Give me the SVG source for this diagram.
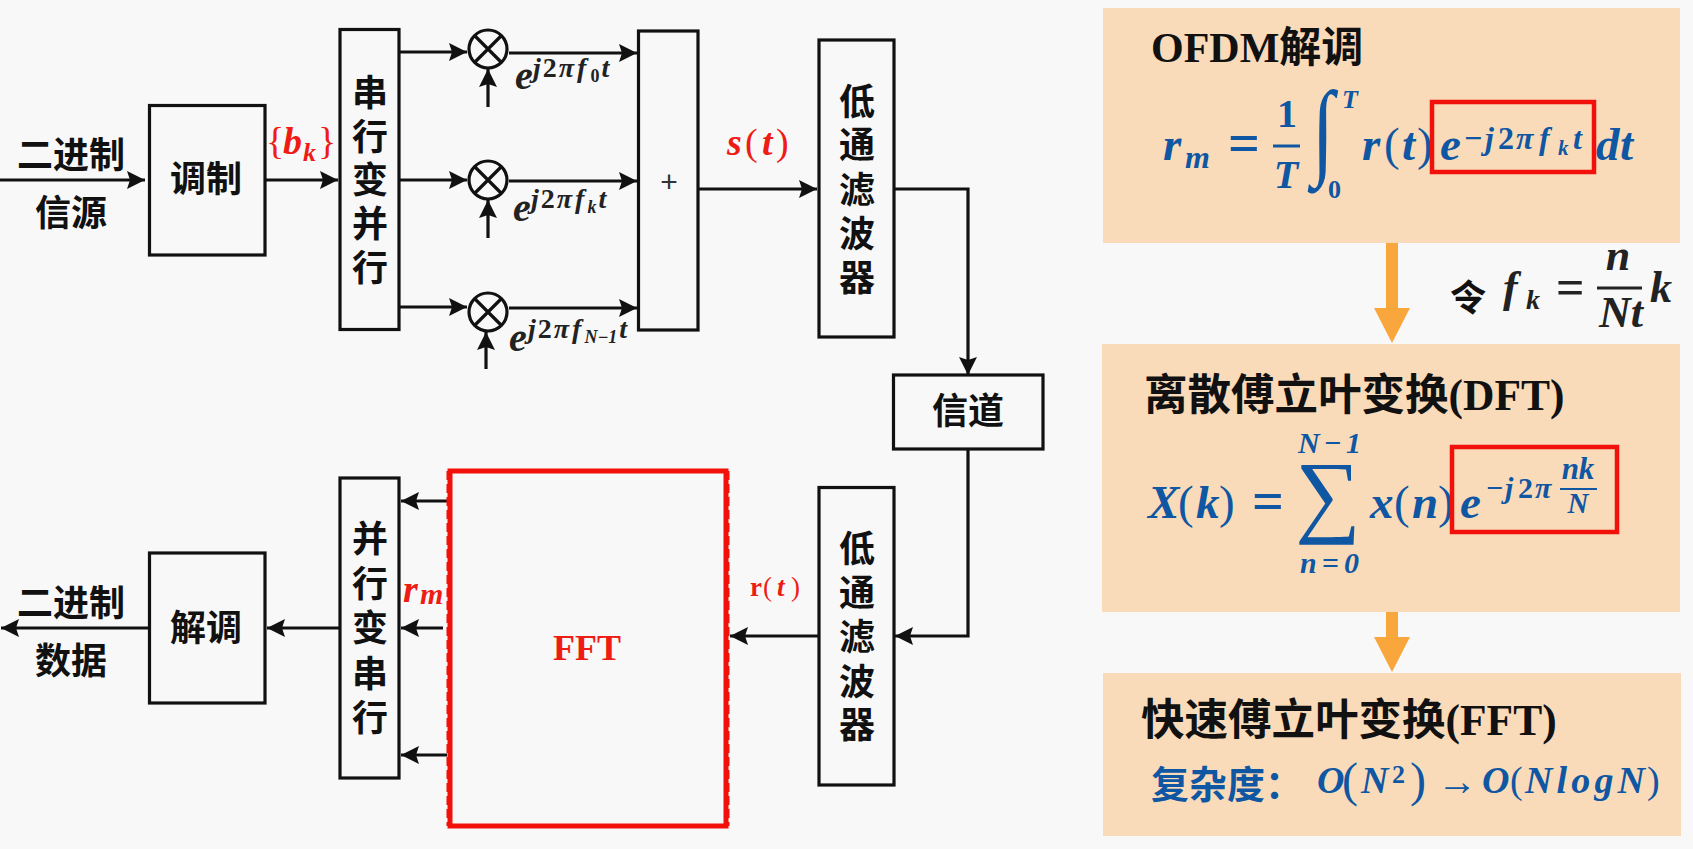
<svg xmlns="http://www.w3.org/2000/svg" width="1693" height="849" viewBox="0 0 1693 849">
<style>
.box{fill:none;stroke:#111;stroke-width:3.2}
.ln{fill:none;stroke:#111;stroke-width:3.2}
.arr{marker-end:url(#ah)}
.cjk{font-family:"Noto Sans CJK SC","Noto Sans",sans-serif;font-weight:700;font-size:36px;fill:#111;text-anchor:middle;dominant-baseline:central;transform:translate(0,-2px)}
.ttl{font-family:"Liberation Serif","Noto Sans CJK SC",serif;font-weight:700;font-size:42px;fill:#111}
.ttl2{font-size:43.5px}
.m{font-family:"Liberation Serif",serif;font-weight:700;font-style:italic;fill:#0f56a3}
.n{font-style:normal}
.u{font-family:"Liberation Serif",serif;font-weight:400;fill:#0f56a3}
.k{fill:#222}
.r{fill:#ee1c14}
.s44{font-size:47px}.s30{font-size:32px}.s26{font-size:26px}.s36{font-size:38px}
.eq{font-size:56px}
.panel{fill:#f9dbb9}
.rb{fill:none;stroke:#f2100a;stroke-width:4.5}
.oa{fill:#f9a73c}
.fl{stroke:#0f56a3;stroke-width:3}
.fd{fill:none;stroke:#f2100a;stroke-width:2;stroke-dasharray:9 4}
</style>
<defs>
<marker id="ah" markerUnits="userSpaceOnUse" markerWidth="20" markerHeight="20" refX="18" refY="9" orient="auto"><path d="M0,0 L18,9 L0,18 L3,9 Z" fill="#111"/></marker>
</defs>
<rect width="1693" height="849" fill="#f8f8f8"/>

<g id="connectors">
<path class="ln arr" d="M0,180 L145,180"/>
<path class="ln arr" d="M266,180 L338,180"/>
<path class="ln arr" d="M400,52 L467,52"/>
<path class="ln arr" d="M400,180 L467,180"/>
<path class="ln arr" d="M400,307 L467,307"/>
<path class="ln arr" d="M509,53 L637,53"/>
<path class="ln arr" d="M509,181 L637,181"/>
<path class="ln arr" d="M509,308 L637,308"/>
<path class="ln arr" d="M488,107 L488,69"/>
<path class="ln arr" d="M488,238 L488,200"/>
<path class="ln arr" d="M486,369 L486,332"/>
<path class="ln arr" d="M699,189 L817,189"/>
<path class="ln arr" d="M894,189 L968,189 L968,375"/>
<path class="ln arr" d="M968,449 L968,636 L895,636"/>
<path class="ln arr" d="M818,636 L730,636"/>
<path class="ln arr" d="M447,501 L401,501"/>
<path class="ln arr" d="M443,628 L401,628"/>
<path class="ln arr" d="M447,755 L401,755"/>
<path class="ln arr" d="M340,628 L267,628"/>
<path class="ln arr" d="M148,628 L1,628"/>
</g>

<g id="src-label"><text class="cjk" x="71" y="154">二进制</text><text class="cjk" x="71" y="212">信源</text></g>
<g id="modulate"><rect class="box" x="149.500" y="105.500" width="115.500" height="149.500"/><text class="cjk" x="206" y="178">调制</text></g>
<g id="sp"><rect class="box" x="340" y="29.500" width="59" height="300"/>
<text class="cjk" x="370" y="92">串</text><text class="cjk" x="370" y="136">行</text><text class="cjk" x="370" y="179">变</text><text class="cjk" x="370" y="223">并</text><text class="cjk" x="370" y="267">行</text></g>

<g id="mixer0"><circle class="box" cx="488" cy="49" r="19"/><path class="ln" d="M475,36 L501,62 M501,36 L475,62"/></g>
<g id="mixer1"><circle class="box" cx="488" cy="180" r="19"/><path class="ln" d="M475,167 L501,193 M501,167 L475,193"/></g>
<g id="mixer2"><circle class="box" cx="488" cy="312" r="19"/><path class="ln" d="M475,299 L501,325 M501,299 L475,325"/></g>

<g id="carrier-labels" font-size="28">
<text class="m k" x="515" y="89" font-size="40">e</text>
<text class="m k" x="533" y="77" font-size="28">j<tspan dx="2" class="n">2</tspan><tspan dx="2">π</tspan><tspan dx="3">f</tspan><tspan dx="4" dy="5" font-size="18" class="n">0</tspan><tspan dx="2" dy="-5">t</tspan></text>
<text class="m k" x="513" y="221" font-size="40">e</text>
<text class="m k" x="531" y="208" font-size="28">j<tspan dx="2" class="n">2</tspan><tspan dx="2">π</tspan><tspan dx="3">f</tspan><tspan dx="3" dy="5" font-size="18">k</tspan><tspan dx="2" dy="-5">t</tspan></text>
<text class="m k" x="509" y="351" font-size="40">e</text>
<text class="m k" x="528" y="338" font-size="28">j<tspan dx="2" class="n">2</tspan><tspan dx="2">π</tspan><tspan dx="3">f</tspan><tspan dx="3" dy="5" font-size="18">N−1</tspan><tspan dx="2" dy="-5">t</tspan></text>
</g>

<g id="sum"><rect class="box" x="638.500" y="31" width="59.500" height="299"/><text x="669" y="192" font-family="Liberation Sans,sans-serif" font-size="30" text-anchor="middle" fill="#333">+</text></g>

<g id="lpf1"><rect class="box" x="819" y="40" width="75" height="297"/>
<text class="cjk" x="857" y="101">低</text><text class="cjk" x="857" y="144">通</text><text class="cjk" x="857" y="189">滤</text><text class="cjk" x="857" y="233">波</text><text class="cjk" x="857" y="277">器</text></g>
<g id="channel"><rect class="box" x="893.500" y="375" width="149.500" height="74"/><text class="cjk" x="968" y="410">信道</text></g>
<g id="lpf2"><rect class="box" x="819" y="487.500" width="75" height="297.500"/>
<text class="cjk" x="857" y="548">低</text><text class="cjk" x="857" y="592">通</text><text class="cjk" x="857" y="636">滤</text><text class="cjk" x="857" y="681">波</text><text class="cjk" x="857" y="724">器</text></g>

<g id="fft"><rect x="450" y="471" width="276" height="355" fill="none" stroke="#f2100a" stroke-width="5"/>
<path class="fd" d="M447.500,471 V826 M728.500,471 V826"/>
<text x="587" y="660" font-family="Liberation Serif,serif" font-weight="700" font-size="36" text-anchor="middle" fill="#ee1c14">FFT</text></g>

<g id="ps"><rect class="box" x="340" y="478" width="59" height="300"/>
<text class="cjk" x="370" y="538">并</text><text class="cjk" x="370" y="583">行</text><text class="cjk" x="370" y="627">变</text><text class="cjk" x="370" y="673">串</text><text class="cjk" x="370" y="717">行</text></g>
<g id="demod"><rect class="box" x="149.500" y="553" width="115.500" height="150"/><text class="cjk" x="206" y="627">解调</text></g>
<g id="sink-label"><text class="cjk" x="71" y="602">二进制</text><text class="cjk" x="71" y="660">数据</text></g>

<g id="red-labels">
<text class="u r" x="266" y="154" font-size="38">{</text>
<text class="m r" x="283" y="154" font-size="38">b</text>
<text class="m r" x="303" y="161" font-size="26">k</text>
<text class="u r" x="318" y="154" font-size="38">}</text>
<text class="m r" x="727" y="155" font-size="38">s</text>
<text class="u r" x="745" y="155" font-size="38">(</text>
<text class="m r" x="762" y="155" font-size="38">t</text>
<text class="u r" x="776" y="155" font-size="38">)</text>
<text class="m r" x="403" y="602" font-size="38">r</text>
<text class="m r" x="420" y="604" font-size="30">m</text>
<text x="750" y="596" font-family="Liberation Serif,serif" font-weight="700" font-size="27" fill="#ee1c14">r</text>
<text class="u r" x="763" y="596" font-size="27">(</text>
<text class="m r" x="777" y="596" font-size="27">t</text>
<text class="u r" x="791" y="596" font-size="27">)</text>
</g>

<g id="panel-ofdm"><rect class="panel" x="1103" y="8" width="577" height="235"/>
<text class="ttl" x="1151" y="62">OFDM解调</text>
<text class="m s44" x="1163" y="160">r</text><text class="m s30" x="1185" y="168">m</text>
<text class="m n eq" x="1228" y="162">=</text>
<text class="m n" x="1287" y="127" font-size="40" text-anchor="middle">1</text>
<line class="fl" x1="1273" y1="146" x2="1300" y2="146"/>
<text class="m" x="1286" y="188" font-size="40" text-anchor="middle">T</text>
<text class="u" font-size="112" transform="translate(1312,165) scale(.72,.95)">∫</text>
<text class="m s26" x="1342" y="108">T</text>
<text class="m s26 n" x="1328" y="198">0</text>
<text class="m s44" x="1362" y="160">r</text><text class="u s44" x="1384" y="160">(</text><text class="m s44" x="1402" y="160">t</text><text class="u s44" x="1417" y="160">)</text>
<text class="m s44" x="1440" y="160">e</text>
<text class="m s30 n" x="1464" y="149">−</text><text class="m s30" x="1485" y="149">j</text><text class="m s30 n" x="1498" y="149">2</text><text class="m s30" x="1516" y="149">π</text><text class="m s30" x="1539" y="149">f</text><text class="m" x="1558" y="155" font-size="21">k</text><text class="m s30" x="1573" y="149">t</text>
<text class="m s44" x="1596" y="160">d</text><text class="m s44" x="1620" y="160">t</text>
<rect class="rb" x="1432" y="102" width="162" height="70"/>
</g>

<g id="arrow1"><path class="oa" d="M1386,243 H1398 V308 H1410 L1392,343 L1374,308 H1386 Z"/></g>
<g id="let-formula">
<text class="cjk" x="1468" y="297">令</text>
<text class="m k" x="1503" y="302" font-size="44">f</text><text class="m k" x="1526" y="309" font-size="28">k</text>
<text class="m k n" x="1556" y="304" font-size="50">=</text>
<text class="m k" x="1618" y="270" font-size="44" text-anchor="middle">n</text>
<line x1="1597" y1="288" x2="1642" y2="288" stroke="#222" stroke-width="3"/>
<text class="m k" x="1621" y="327" font-size="44" text-anchor="middle">Nt</text>
<text class="m k" x="1650" y="302" font-size="44">k</text>
</g>

<g id="panel-dft"><rect class="panel" x="1102" y="344" width="578" height="268"/>
<text class="ttl ttl2" x="1144" y="410">离散傅立叶变换(DFT)</text>
<text class="m s44" x="1148" y="518">X</text><text class="u s44" x="1178" y="518">(</text><text class="m s44" x="1196" y="518">k</text><text class="u s44" x="1219" y="518">)</text>
<text class="m n eq" x="1252" y="520">=</text>
<text class="m" x="1298" y="453" font-size="30" textLength="63">N−1</text>
<text class="u" x="1328" y="525" font-size="92" text-anchor="middle">∑</text>
<text class="m" x="1300" y="573" font-size="30" textLength="59">n=0</text>
<text class="m s44" x="1370" y="518">x</text><text class="u s44" x="1394" y="518">(</text><text class="m s44" x="1412" y="518">n</text><text class="u s44" x="1438" y="518">)</text>
<text class="m s44" x="1460" y="518">e</text>
<text class="m n" x="1486" y="498" font-size="30">−</text><text class="m" x="1505" y="498" font-size="30">j</text><text class="m n" x="1518" y="498" font-size="30">2</text><text class="m" x="1535" y="498" font-size="30">π</text>
<text class="m" x="1578" y="479" font-size="31" text-anchor="middle">nk</text>
<line x1="1560" y1="489" x2="1597" y2="489" stroke="#0f56a3" stroke-width="2"/>
<text class="m" x="1578" y="513" font-size="29" text-anchor="middle">N</text>
<rect class="rb" x="1452" y="447" width="165" height="85"/>
</g>

<g id="arrow2"><path class="oa" d="M1386,612 H1398 V637 H1410 L1392,672 L1374,637 H1386 Z"/></g>

<g id="panel-fft"><rect class="panel" x="1103" y="673" width="578" height="163"/>
<text class="ttl ttl2" x="1141" y="735">快速傅立叶变换(FFT)</text>
<text class="cjk" x="1151" y="783" style="font-size:38px;text-anchor:start;fill:#0f56a3">复杂度：</text>
<text class="m s36" x="1317" y="793">O</text><text class="u" x="1342" y="796" font-size="48">(</text><text class="m s36" x="1361" y="793">N</text><text class="m n" x="1392" y="783" font-size="26">2</text><text class="u" x="1410" y="796" font-size="48">)</text>
<text class="u" x="1437" y="795" font-size="40">→</text>
<text class="m s36" x="1482" y="793">O</text><text class="u s36" x="1510" y="793">(</text><text class="m s36" x="1525" y="793" textLength="120">NlogN</text><text class="u s36" x="1647" y="793">)</text>
</g>
</svg>
